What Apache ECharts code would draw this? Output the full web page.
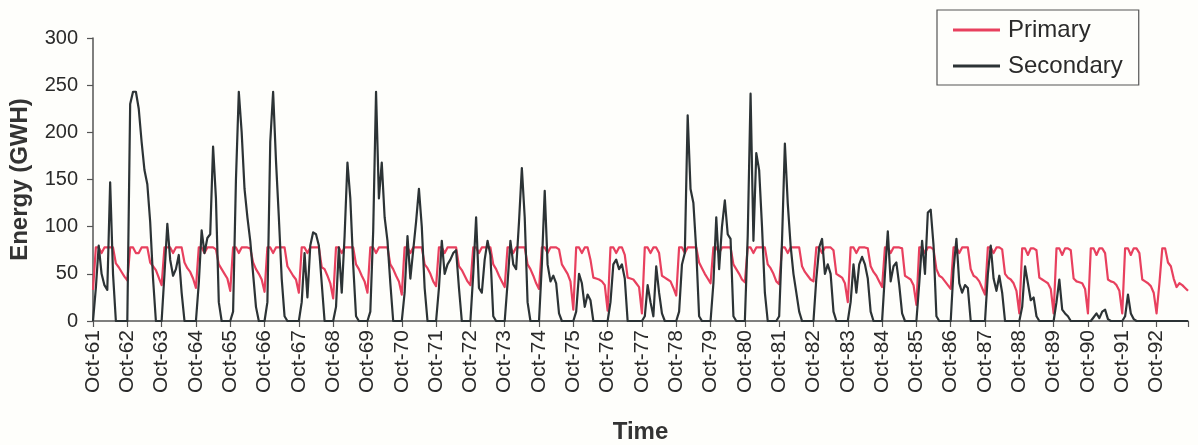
<!DOCTYPE html>
<html>
<head>
<meta charset="utf-8">
<script src="https://cdn.jsdelivr.net/npm/echarts@6/dist/echarts.min.js"></script>
<style>
html,body{margin:0;padding:0;background:#fefefb;}
#chart{width:1198px;height:445px;}
</style>
</head>
<body>
<div id="chart"></div>
<script>
// Monthly series, Oct-1961 .. Sep-1993 (12 values per line = one water year starting in October)
const monthNames = ['Oct','Nov','Dec','Jan','Feb','Mar','Apr','May','Jun','Jul','Aug','Sep'];
const startYear = 61;
const nYears = 32;

const primary = [
33,78,78,72,78,78,78,78,61,57,52,47,
43,78,78,72,72,78,78,78,62,58,54,46,
38,78,78,78,72,78,78,78,62,56,52,45,
35,78,78,72,78,78,78,76,60,55,50,45,
32,78,78,72,78,78,78,77,62,55,50,44,
31,78,78,72,78,78,78,78,58,53,48,44,
30,78,78,72,78,78,78,78,57,55,48,40,
24,78,78,72,78,78,78,78,60,55,48,42,
30,78,78,72,78,78,78,78,60,55,48,42,
28,78,78,72,78,78,78,78,60,56,50,42,
37,78,78,72,78,78,78,78,58,54,48,42,
38,78,78,72,78,78,78,78,60,55,48,42,
36,78,78,72,78,78,78,78,60,55,48,40,
34,78,78,72,78,78,78,76,60,55,50,42,
12,78,78,72,78,78,65,46,45,44,42,38,
11,78,78,72,78,78,70,46,45,44,40,36,
8,78,78,72,78,78,72,48,46,44,42,35,
27,78,78,72,78,78,78,78,62,56,50,45,
40,78,78,72,78,78,78,78,60,55,50,44,
41,78,78,72,78,78,78,78,60,56,50,42,
39,78,78,72,78,78,78,78,58,52,48,44,
42,78,78,72,78,78,78,75,50,48,46,40,
20,78,78,72,78,78,78,77,58,52,48,42,
36,78,78,72,78,78,78,77,48,46,44,38,
17,78,78,72,78,78,76,55,48,46,42,38,
34,78,78,72,78,78,78,55,48,46,42,35,
28,78,78,72,78,78,76,50,46,44,40,32,
8,77,77,70,77,77,75,46,44,42,40,34,
8,77,77,70,77,77,75,45,42,41,40,34,
8,77,77,70,77,77,72,44,42,41,38,32,
8,77,77,70,77,77,72,44,42,40,37,30,
8,40,77,77,62,58,45,36,40,38,35,32
];

const secondary = [
0,35,80,50,38,33,147,50,0,0,0,0,
0,230,243,243,225,190,160,145,105,45,0,0,
0,50,103,65,48,55,70,30,0,0,0,0,
0,40,96,72,88,92,185,130,20,0,0,0,
0,10,150,243,200,140,110,85,50,15,0,0,
0,20,190,243,170,110,45,5,0,0,0,0,
0,20,72,25,80,94,92,80,40,0,0,0,
0,15,78,30,90,168,130,60,5,0,0,0,
0,10,95,243,130,168,110,85,40,0,0,0,
0,30,90,45,75,105,140,100,35,0,0,0,
0,35,85,50,60,65,72,75,35,0,0,0,
0,50,110,35,30,65,85,70,5,0,0,0,
0,40,85,60,55,105,162,110,20,0,0,0,
0,60,138,60,42,48,40,8,0,0,0,0,
0,10,50,40,15,28,22,0,0,0,0,0,
0,20,60,65,55,60,45,0,0,0,0,0,
0,5,38,20,5,58,30,8,0,0,0,0,
0,10,60,72,218,140,125,75,5,0,0,0,
0,40,110,55,100,128,92,87,5,0,0,0,
0,90,241,85,178,160,100,30,0,0,0,0,
5,85,188,125,80,50,30,10,0,0,0,0,
0,45,78,87,50,60,50,10,0,0,0,0,
0,20,60,30,60,68,60,45,10,0,0,0,
0,50,95,42,58,62,38,8,0,0,0,0,
0,40,85,50,115,118,80,5,0,0,0,0,
0,55,87,40,30,38,35,0,0,0,0,0,
0,50,80,45,32,48,30,0,0,0,0,0,
0,15,58,40,22,25,5,0,0,0,0,0,
0,20,44,12,8,5,0,0,0,0,0,0,
0,0,4,8,3,10,12,2,0,0,0,0,
0,5,28,8,2,0,0,0,0,0,0,0,
0,0,0,0,0,0,0,0,0,0,0,0
];

const yTicks = [0, 50, 100, 150, 200, 250, 300];

// category labels: "Oct-61", "Nov-61", ... (calendar year switches in January)
const categories = [];
for (let i = 0; i < nYears * 12; i++) {
  const mIdx = i % 12;
  const wy = startYear + Math.floor(i / 12);
  const yr = mIdx >= 3 ? wy + 1 : wy;
  categories.push(monthNames[mIdx] + '-' + String(yr % 100).padStart(2, '0'));
}

const FONT = "'Liberation Sans', Arial, Helvetica, sans-serif";
const chart = echarts.init(document.getElementById('chart'), null, {renderer: 'canvas'});
chart.setOption({
  backgroundColor: '#fefefb',
  animation: false,
  textStyle: {fontFamily: FONT},
  grid: {left: 93, right: 10, top: 38, bottom: 124, containLabel: false, outerBoundsMode: 'none'},
  legend: {
    data: ['Primary', 'Secondary'],
    orient: 'vertical',
    left: 937, top: 10,
    padding: [8, 16, 7, 16],
    itemGap: 12,
    itemWidth: 47, itemHeight: 3,
    icon: 'rect',
    borderColor: '#555', borderWidth: 1.2,
    textStyle: {fontSize: 24, color: '#2a2a2a', fontFamily: FONT, padding: [0, 0, 0, 3]}
  },
  xAxis: {
    type: 'category',
    data: categories,
    boundaryGap: false,
    name: 'Time',
    nameLocation: 'middle',
    nameGap: 99,
    nameMoveOverlap: false,
    nameTextStyle: {fontSize: 24, fontWeight: 'bold', color: '#333', fontFamily: FONT},
    axisLine: {lineStyle: {color: '#555', width: 1.5}},
    axisTick: {show: true, length: 6, interval: function (i) { return i % 12 === 0 || i === nYears * 12 - 1; }, lineStyle: {color: '#555', width: 1.2}},
    axisLabel: {interval: 11, rotate: 90, fontSize: 21, color: '#2a2a2a', margin: 9, fontFamily: FONT},
    splitLine: {show: false}
  },
  yAxis: {
    type: 'value',
    min: 0, max: 300, interval: 50,
    name: 'Energy (GWH)',
    nameLocation: 'middle',
    nameRotate: 90,
    nameGap: 61,
    nameMoveOverlap: false,
    nameTextStyle: {fontSize: 24, fontWeight: 'bold', color: '#333', fontFamily: FONT},
    axisLine: {show: true, lineStyle: {color: '#555', width: 1.5}},
    axisTick: {show: true, length: 6, lineStyle: {color: '#555', width: 1.2}},
    axisLabel: {fontSize: 20, color: '#2a2a2a', margin: 15, fontFamily: FONT,
      formatter: function (v) { return yTicks.indexOf(v) >= 0 ? String(v) : ''; }},
    splitLine: {show: false}
  },
  series: [
    {name: 'Primary', type: 'line', data: primary, showSymbol: false, symbol: 'none',
     lineStyle: {color: '#e8405e', width: 2.2, join: 'round'}, itemStyle: {color: '#e8405e'}, z: 2},
    {name: 'Secondary', type: 'line', data: secondary, showSymbol: false, symbol: 'none',
     lineStyle: {color: '#2c3335', width: 2.2, join: 'round'}, itemStyle: {color: '#2c3335'}, z: 3}
  ]
});
</script>
</body>
</html>
